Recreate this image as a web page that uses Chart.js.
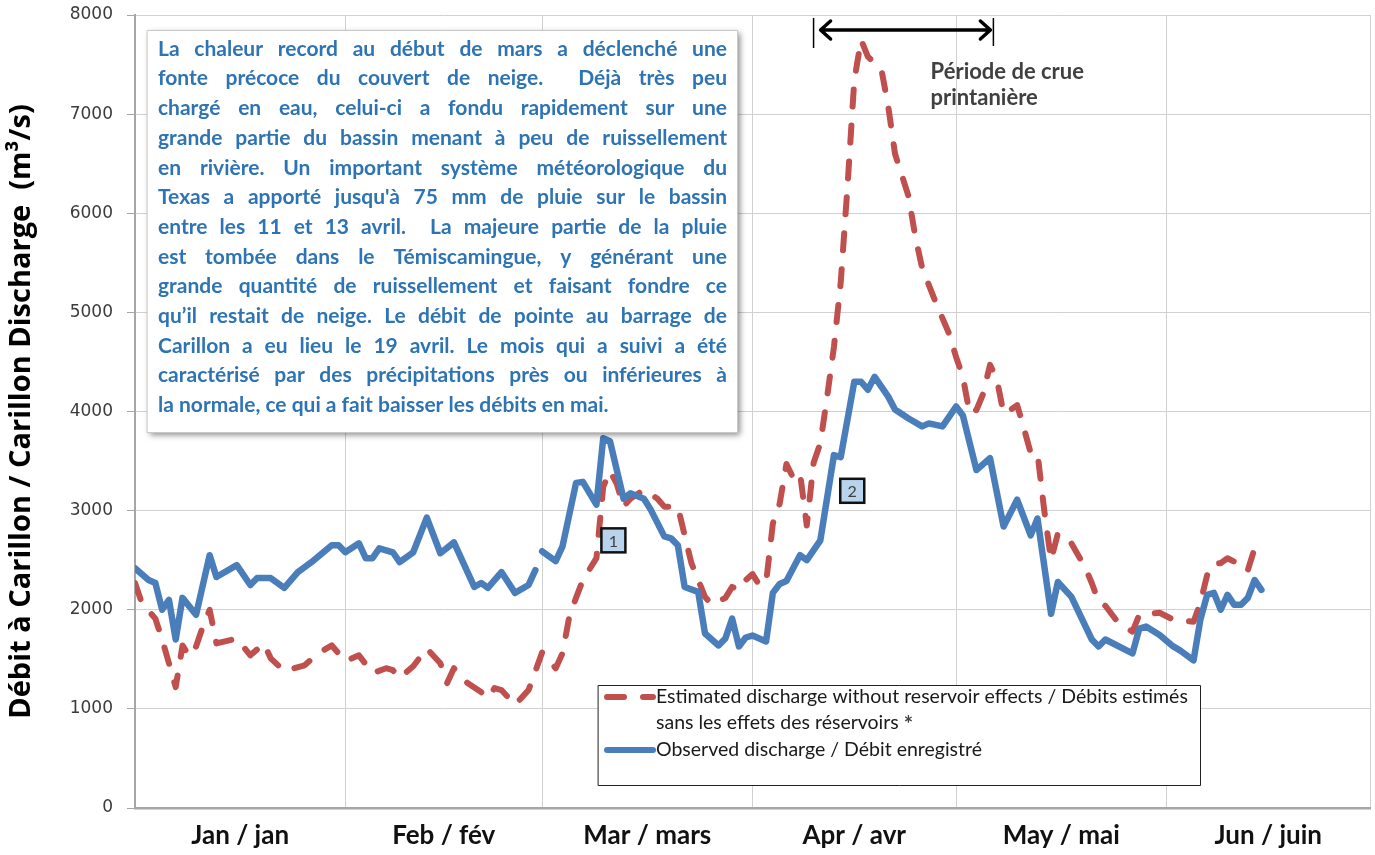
<!DOCTYPE html>
<html>
<head>
<meta charset="utf-8">
<script src="https://cdn.jsdelivr.net/npm/chart.js@4/dist/chart.umd.min.js"></script>
<style>
  html, body { margin: 0; background: #fff; }
  #wrap { width: 1375px; height: 855px; position: relative; }
</style>
</head>
<body>
<div id="wrap"><canvas id="chart"></canvas></div>
<script>
// day 0 = 1 Jan 2012 (leap year)
const monthStarts = [0, 31, 60, 91, 121, 152, 182];
const monthLabels = ["Jan / jan", "Feb / fév", "Mar / mars", "Apr / avr", "May / mai", "Jun / juin"];
const yTicks = [0, 1000, 2000, 3000, 4000, 5000, 6000, 7000, 8000];

const obsDays = [0, 2, 3, 4, 5, 6, 7, 9, 11, 12,
  15, 17, 18, 20, 22, 24, 26, 29, 30, 31,
  33, 34, 35, 36, 38, 39, 41, 43, 45, 47,
  50, 51, 52, 54, 56, 58, 59, 59.5, 60, 62,
  63, 65, 66, 68, 69, 70, 72, 73, 75, 76,
  78, 79, 80, 81, 83, 84, 86, 87, 88, 89,
  90, 91, 93, 94, 95, 96, 98, 99, 101, 103,
  104, 106, 107, 108, 109, 111, 112, 114, 116, 117,
  119, 121, 122, 124, 126, 128, 130, 132, 133, 135,
  136, 138, 141, 142, 143, 147, 148, 149, 151, 153,
  154, 156, 157, 158, 159, 160, 161, 162, 163, 164,
  165, 166];
const obsFlow = [2420, 2300, 2270, 2000, 2100, 1700, 2120, 1950, 2550, 2330,
  2450, 2250, 2320, 2320, 2220, 2380, 2480, 2650, 2650, 2580,
  2670, 2520, 2520, 2620, 2580, 2480, 2580, 2930, 2570, 2680,
  2230, 2270, 2220, 2380, 2170, 2250, 2400, null, 2590, 2490,
  2640, 3280, 3290, 3060, 3730, 3700, 3120, 3175, 3120, 3010,
  2740, 2720, 2650, 2230, 2180, 1760, 1640, 1710, 1910, 1630,
  1720, 1740, 1680, 2170, 2260, 2290, 2550, 2500, 2700, 3560,
  3540, 4300, 4300, 4220, 4350, 4150, 4020, 3930, 3850, 3880,
  3850, 4050, 3960, 3410, 3530, 2840, 3110, 2750, 2920, 1960,
  2280, 2130, 1700, 1630, 1700, 1560, 1810, 1830, 1745, 1630,
  1590, 1490, 1900, 2150, 2170, 2000, 2150, 2050, 2050, 2120,
  2300, 2200];

const estDays = [0, 1, 3, 4, 5, 6, 7, 8, 9, 10,
  11, 12, 15, 17, 19, 20, 22, 25, 27, 29,
  30, 31, 33, 35, 37, 38, 39, 41, 43, 45,
  46, 47, 49, 51, 52, 53, 54, 56, 58, 59,
  60, 62, 63, 64, 65, 66, 68, 69, 70, 71,
  72, 73, 75, 77, 78, 80, 81, 82, 83, 84,
  85, 87, 88, 89, 90, 91, 92, 93, 94, 95,
  96, 97, 98, 99, 100, 101, 102, 103, 104, 105,
  106, 107, 108, 110, 111, 112, 114, 115, 116, 118,
  120, 121, 122, 123, 124, 125, 126, 127, 128, 129,
  130, 131, 132, 133, 134, 135, 136, 138, 140, 141,
  142, 143, 145, 147, 148, 151, 153, 156, 157, 158,
  159, 160, 161, 162, 163, 164, 165];
const estFlow = [2270, 2070, 1910, 1700, 1460, 1220, 1640, 1530, 1630, 1830,
  2000, 1660, 1710, 1540, 1660, 1510, 1380, 1440, 1560, 1640,
  1560, 1480, 1540, 1360, 1410, 1390, 1310, 1430, 1610, 1460,
  1260, 1410, 1260, 1170, 1110, 1210, 1190, 1040, 1190, 1380,
  1570, 1410, 1560, 1930, 2120, 2300, 2520, 3240, 3400, 3270,
  3040, 3120, 3210, 3120, 3040, 3040, 2750, 2470, 2300, 2130,
  2050, 2120, 2230, 2200, 2300, 2360, 2250, 2270, 2870, 3070,
  3470, 3330, 3380, 2850, 3480, 3680, 4150, 4650, 5300, 6270,
  7340, 7750, 7580, 7450, 7080, 6600, 6170, 5760, 5450, 5100,
  4780, 4550, 4350, 3980, 4015, 4180, 4470, 4330, 3980, 4015,
  4065, 3830, 3580, 3580, 3000, 2500, 2770, 2670, 2430, 2270,
  2080, 2040, 1860, 1780, 1950, 1970, 1900, 1880, 2070, 2350,
  2470, 2470, 2520, 2485, 2400, 2400, 2620];

const estLabel = ["Estimated discharge without reservoir effects / Débits estimés", "sans les effets des réservoirs"];
const obsLabel = "Observed discharge / Débit enregistré";
const yTitle = "Débit à Carillon / Carillon Discharge  (m³/s)";

const floodPeriod = [100, 126.5];
const floodLabel = ["Période de crue", "printanière"];
const markers = [{ text: "1", day: 70.5, flow: 2700 }, { text: "2", day: 105.7, flow: 3200 }];

const noteLines = [
  "La chaleur record au début de mars a déclenché une",
  "fonte précoce du couvert de neige.  Déjà très peu",
  "chargé en eau, celui-ci a fondu rapidement sur une",
  "grande partie du bassin menant à peu de ruissellement",
  "en rivière. Un important système météorologique du",
  "Texas a apporté jusqu'à 75 mm de pluie sur le bassin",
  "entre les 11 et 13 avril.  La majeure partie de la pluie",
  "est tombée dans le Témiscamingue, y générant une",
  "grande quantité de ruissellement et faisant fondre ce",
  "qu’il restait de neige. Le débit de pointe au barrage de",
  "Carillon a eu lieu le 19 avril. Le mois qui a suivi a été",
  "caractérisé par des précipitations près ou inférieures à",
  "la normale, ce qui a fait baisser les débits en mai.",
];

const monthMids = monthLabels.map((_, i) => (monthStarts[i] + monthStarts[i + 1]) / 2);
const BLUE = "#4a7ebb";
const RED = "#c0504d";
const DASH = [17, 19];

function justify(ctx, line, x, y, width) {
  const parts = line.split(" ");
  const used = parts.reduce((s, p) => s + ctx.measureText(p).width, 0);
  const gap = Math.max((width - used) / (parts.length - 1), 2);
  let cx = x;
  parts.forEach((p) => {
    ctx.fillText(p, cx, y);
    cx += ctx.measureText(p).width + gap;
  });
}

const notes = {
  id: "notes",
  afterDatasetsDraw(chart) {
    const { ctx, chartArea: ca, scales: { x, y } } = chart;
    ctx.save();

    // numbered markers
    markers.forEach((m) => {
      const px = x.getPixelForValue(m.day), py = y.getPixelForValue(m.flow);
      ctx.fillStyle = "#b8d3ec";
      ctx.strokeStyle = "#111";
      ctx.lineWidth = 2.5;
      ctx.fillRect(px - 12, py - 12, 24, 24);
      ctx.strokeRect(px - 12, py - 12, 24, 24);
      ctx.fillStyle = "#404040";
      ctx.font = "16px Lato";
      ctx.textAlign = "center";
      ctx.textBaseline = "middle";
      ctx.fillText(m.text, px, py + 1);
    });

    // spring flood period arrow
    const x0 = x.getPixelForValue(floodPeriod[0]), x1 = x.getPixelForValue(floodPeriod[1]);
    const ay = ca.top + 15;
    ctx.strokeStyle = "#000";
    ctx.lineWidth = 1.5;
    ctx.beginPath();
    ctx.moveTo(x0, ay - 12); ctx.lineTo(x0, ay + 18);
    ctx.moveTo(x1, ay - 12); ctx.lineTo(x1, ay + 16);
    ctx.stroke();
    ctx.lineWidth = 3.5;
    ctx.lineCap = "round";
    ctx.lineJoin = "round";
    ctx.beginPath();
    ctx.moveTo(x0 + 7, ay); ctx.lineTo(x1 - 3, ay);
    ctx.moveTo(x0 + 17, ay - 9); ctx.lineTo(x0 + 7, ay); ctx.lineTo(x0 + 17, ay + 9);
    ctx.moveTo(x1 - 13, ay - 9); ctx.lineTo(x1 - 3, ay); ctx.lineTo(x1 - 13, ay + 9);
    ctx.stroke();
    ctx.fillStyle = "#404040";
    ctx.font = "bold 22px Lato";
    ctx.textAlign = "left";
    ctx.textBaseline = "middle";
    ctx.fillText(floodLabel[0], x0 + 117, ay + 42);
    ctx.fillText(floodLabel[1], x0 + 117, ay + 68);

    // text box
    const bx = ca.left + 12, by = ca.top + 15, bw = 590, bh = 402;
    ctx.save();
    ctx.shadowColor = "rgba(0,0,0,0.45)";
    ctx.shadowBlur = 6;
    ctx.shadowOffsetX = 3;
    ctx.shadowOffsetY = 3;
    ctx.fillStyle = "#fff";
    ctx.fillRect(bx, by, bw, bh);
    ctx.restore();
    ctx.strokeStyle = "#c8c8c8";
    ctx.lineWidth = 1;
    ctx.strokeRect(bx + 0.5, by + 0.5, bw, bh);
    ctx.fillStyle = "#2e74b5";
    const tw = bw - 21;
    let fs = 21;
    ctx.font = `bold ${fs}px Lato`;
    while (fs > 12 && Math.max(...noteLines.map((l) => ctx.measureText(l).width)) > tw) {
      fs -= 0.5;
      ctx.font = `bold ${fs}px Lato`;
    }
    ctx.textAlign = "left";
    ctx.textBaseline = "middle";
    noteLines.forEach((line, i) => {
      const ly = by + 19 + i * 29.7;
      if (i < noteLines.length - 1) justify(ctx, line, bx + 11, ly, tw);
      else ctx.fillText(line, bx + 11, ly);
    });

    // legend
    const lx = ca.left + 463, ly = ca.bottom - 123, lw = 602, lh = 100;
    ctx.fillStyle = "#fff";
    ctx.fillRect(lx, ly, lw, lh);
    ctx.strokeStyle = "#222";
    ctx.lineWidth = 1;
    ctx.strokeRect(lx + 0.5, ly + 0.5, lw, lh);
    const sample = (color, dash, yy) => {
      ctx.save();
      ctx.strokeStyle = color;
      ctx.lineWidth = 6;
      ctx.lineCap = "round";
      ctx.setLineDash(dash);
      ctx.beginPath();
      ctx.moveTo(lx + 9, yy);
      ctx.lineTo(lx + 55, yy);
      ctx.stroke();
      ctx.restore();
    };
    sample(RED, DASH, ly + 12);
    sample(BLUE, [], ly + 65);
    ctx.fillStyle = "#1a1a1a";
    ctx.font = "19.5px Lato";
    ctx.textBaseline = "middle";
    ctx.fillText(estLabel[0], lx + 58, ly + 12);
    ctx.fillText(estLabel[1], lx + 58, ly + 38);
    const starX = lx + 58 + ctx.measureText(estLabel[1] + " ").width;
    ctx.fillText(obsLabel, lx + 58, ly + 65);
    ctx.font = "bold 22px Lato";
    ctx.fillStyle = "#404040";
    ctx.fillText("*", starX, ly + 40);

    ctx.restore();
  },
};

const toPoints = (days, vals) => days.map((d, i) => ({ x: d, y: vals[i] }));

new Chart(document.getElementById("chart"), {
  type: "line",
  data: {
    datasets: [
      {
        label: estLabel.join(" "),
        data: toPoints(estDays, estFlow),
        borderColor: RED,
        borderWidth: 6,
        borderDash: DASH,
        borderCapStyle: "round",
        borderJoinStyle: "round",
        pointRadius: 0,
        pointHoverRadius: 0,
        tension: 0,
        order: 2,
      },
      {
        label: obsLabel,
        data: toPoints(obsDays, obsFlow),
        borderColor: BLUE,
        borderWidth: 6.5,
        borderCapStyle: "round",
        borderJoinStyle: "round",
        pointRadius: 0,
        pointHoverRadius: 0,
        tension: 0,
        spanGaps: false,
        order: 1,
      },
    ],
  },
  options: {
    responsive: true,
    maintainAspectRatio: false,
    animation: false,
    events: [],
    layout: { autoPadding: false, padding: { left: 0, right: 5, top: 15, bottom: 0 } },
    plugins: { legend: { display: false }, tooltip: { enabled: false } },
    scales: {
      x: {
        type: "linear",
        min: monthStarts[0],
        max: monthStarts[monthStarts.length - 1],
        afterBuildTicks: (s) => {
          s.ticks = [...monthStarts, ...monthMids].sort((a, b) => a - b).map((v) => ({ value: v }));
        },
        afterFit: (s) => {
          s.height = 47;
          s.paddingLeft = 0;
          s.paddingRight = 0;
        },
        ticks: {
          autoSkip: false,
          maxRotation: 0,
          padding: 12,
          color: "#111",
          font: { family: "Lato", size: 26, weight: "bold" },
          callback: (v) => {
            const i = monthMids.indexOf(v);
            return i >= 0 ? monthLabels[i] : "";
          },
        },
        grid: {
          drawTicks: false,
          lineWidth: 1,
          color: (c) => (monthStarts.includes(c.tick && c.tick.value) ? "#d0d0d0" : "rgba(0,0,0,0)"),
        },
        border: { color: "#a6a6a6", width: 2.5 },
      },
      y: {
        min: 0,
        max: 8000,
        afterBuildTicks: (s) => { s.ticks = yTicks.map((v) => ({ value: v })); },
        afterFit: (s) => {
          s.width = 135;
          s.paddingTop = 0;
          s.paddingBottom = 0;
        },
        ticks: {
          padding: 14,
          color: "#3b3b3b",
          font: { family: "DejaVu Sans", size: 17 },
          callback: (v) => String(v),
        },
        grid: { color: "#d0d0d0", lineWidth: 1, tickLength: 8, tickColor: "#a6a6a6" },
        border: { color: "#a6a6a6", width: 2 },
        title: {
          display: true,
          text: yTitle,
          color: "#000",
          padding: { top: 4, bottom: 0 },
          font: { family: "Open Sans", size: 29, weight: "bold" },
        },
      },
    },
  },
  plugins: [notes],
});
</script>
</body>
</html>
